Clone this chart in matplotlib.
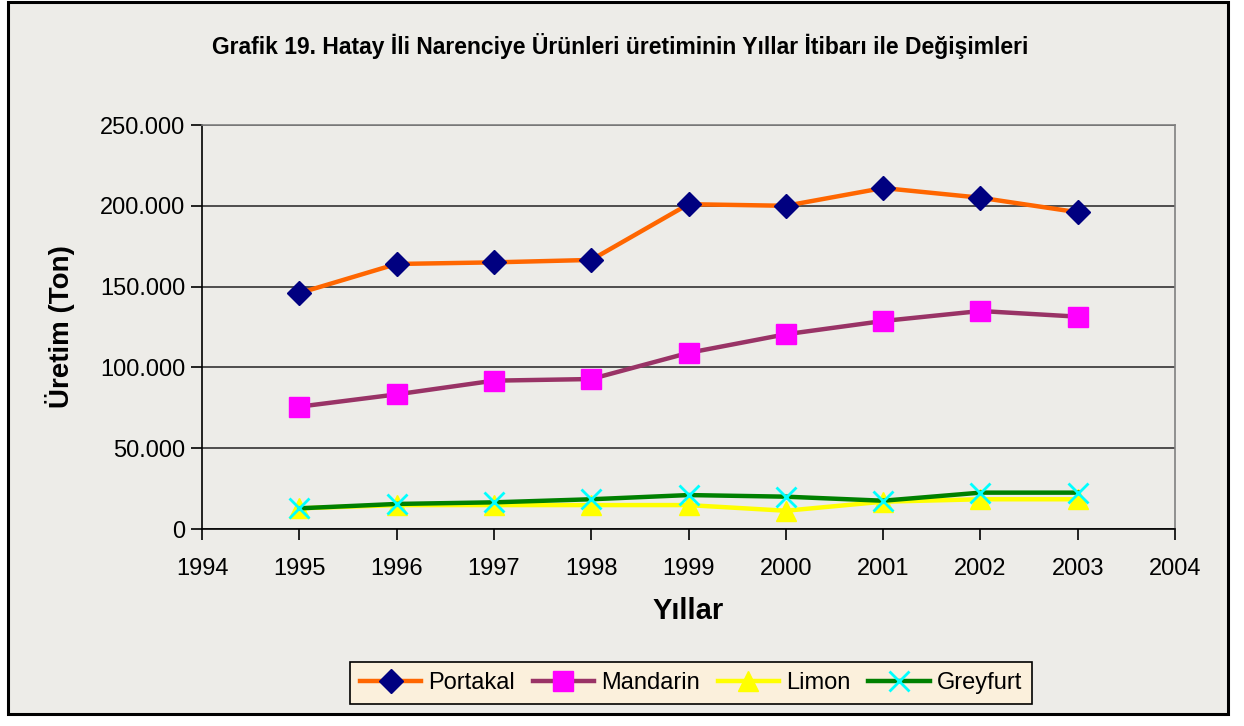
"""
plot.py
Hatay citrus production by year (Grafik 19).
"""

import matplotlib
matplotlib.use('Agg')
import matplotlib.pyplot as plt
from matplotlib.patches import Rectangle
from matplotlib.ticker import FuncFormatter, MultipleLocator

# Data
years = [1995, 1996, 1997, 1998, 1999, 2000, 2001, 2002, 2003]
portakal = [146000, 164000, 165000, 166500, 201000, 200000, 211000, 205000, 196000]
mandarin = [75700, 83300, 91800, 92800, 109000, 120500, 128700, 134900, 131400]
limon = [12800, 14800, 14800, 14800, 14800, 11300, 16900, 18400, 18400]
greyfurt = [12800, 15500, 16500, 18400, 21000, 20000, 17500, 22500, 22500]

TITLE = 'Grafik 19. Hatay İli Narenciye Ürünleri üretiminin Yıllar İtibarı ile Değişimleri'
FONT = ['Liberation Sans', 'DejaVu Sans']
BG = '#EDECE8'

W, H = 1244, 726
fig = plt.figure(figsize=(W / 100, H / 100), dpi=100)
fig.patch.set_facecolor('white')

# Outer chart frame
fig.patches.append(Rectangle((8 / W, 1 - 714 / H), 1220 / W, 712 / H,
                             transform=fig.transFigure, facecolor=BG,
                             edgecolor='black', linewidth=2.2, zorder=-10))

ax = fig.add_axes([202 / W, 1 - 529 / H, 973 / W, 404 / H])
ax.set_facecolor('none')
ax.set_zorder(1)

ax.plot(years, portakal, color='#FF6600', lw=3.2, marker='D', ms=12,
        mfc='#000080', mec='#000080', label='Portakal', zorder=5)
ax.plot(years, mandarin, color='#993366', lw=3.2, marker='s', ms=14,
        mfc='#FF00FF', mec='#FF00FF', label='Mandarin', zorder=4)
ax.plot(years, limon, color='#FFFF00', lw=3.2, marker='^', ms=14,
        mfc='#FFFF00', mec='#FFFF00', label='Limon', zorder=3)
ax.plot(years, greyfurt, color='#008000', lw=3.2, marker='x', ms=14, mew=2,
        mfc='#00FFFF', mec='#00FFFF', label='Greyfurt', zorder=4)

ax.set_xlim(1994, 2004)
ax.set_ylim(0, 250000)
ax.xaxis.set_major_locator(MultipleLocator(1))
ax.yaxis.set_major_locator(MultipleLocator(50000))
ax.yaxis.set_major_formatter(FuncFormatter(
    lambda v, p: '0' if v == 0 else '{:,.0f}'.format(v).replace(',', '.')))

ax.grid(axis='y', color='#333333', lw=1.2)
ax.set_axisbelow(True)
for s in ['top', 'right']:
    ax.spines[s].set_color('#808080')
    ax.spines[s].set_linewidth(1.2)
for s in ['left', 'bottom']:
    ax.spines[s].set_color('black')
    ax.spines[s].set_linewidth(1.2)

ax.tick_params(axis='both', direction='out', length=8, width=1.2,
               labelsize=17, pad=4)
ax.tick_params(axis='x', pad=13)
for lab in ax.get_xticklabels() + ax.get_yticklabels():
    lab.set_family(FONT)

ax.set_xlabel('Yıllar', fontsize=21, fontweight='bold', family=FONT, labelpad=12)
ax.set_ylabel('Üretim (Ton)', fontsize=20, fontweight='bold', family=FONT, labelpad=18)

fig.text(620 / W, 1 - 46 / H, TITLE, ha='center', va='center', fontsize=16.5,
         fontweight='bold',
         family=['Liberation Sans Narrow', 'Liberation Sans', 'DejaVu Sans'])

leg = fig.legend(loc='center', bbox_to_anchor=(691 / W, 1 - 683 / H), ncol=4,
                 prop={'family': FONT, 'size': 17},
                 frameon=True, fancybox=False, handlelength=2.6,
                 columnspacing=0.75, handletextpad=0.3, borderpad=0.42,
                 borderaxespad=0)
leg.get_frame().set_facecolor('#FBF0DC')
leg.get_frame().set_edgecolor('black')
leg.get_frame().set_linewidth(1.2)
leg.get_frame().set_alpha(1)

fig.savefig('out.png', dpi=100)
